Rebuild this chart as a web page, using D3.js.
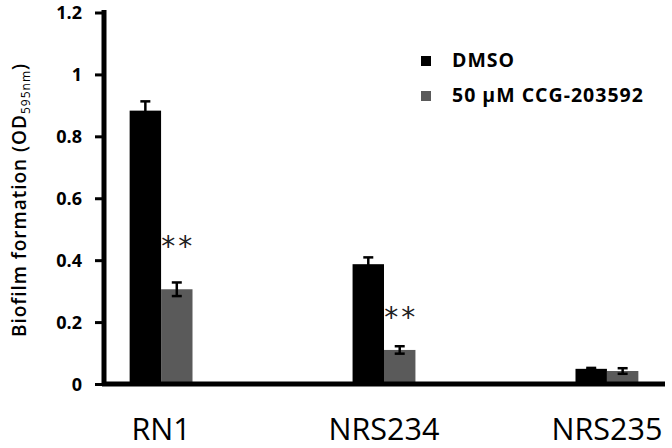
<!DOCTYPE html>
<html><head><meta charset="utf-8">
<script src="https://cdn.jsdelivr.net/npm/d3@7"></script>
<style>body{margin:0;background:#fff}svg{display:block}</style>
</head><body>
<svg id="c" width="672" height="448"></svg>
<script>
const categories = ["RN1", "NRS234", "NRS235"];
const seriesNames = ["DMSO", "50 \u03BCM CCG-203592"];
const dmso = [0.883, 0.387, 0.049];
const dmsoErr = [0.03, 0.022, 0.003];
const ccg = [0.306, 0.11, 0.042];
const ccgErr = [0.022, 0.012, 0.009];
const significance = ["**", "**", ""];
const sigLevel = [0.463, 0.232, 0];
const yTicks = [0, 0.2, 0.4, 0.6, 0.8, 1, 1.2];
const colors = ["#000000", "#5a5a5a"];

const svg = d3.select("#c");
const font = "'Open Sans', 'Noto Sans', sans-serif";
const x0 = d3.scaleBand().domain(categories).range([104, 664]).paddingInner(0.718).paddingOuter(0.115);
const x1 = d3.scaleBand().domain(seriesNames).range([0, x0.bandwidth()]);
const y = d3.scaleLinear().domain([0, 1.2]).range([384, 12.5]);

const data = categories.map((c, i) => ({c, vals: [
  {s: seriesNames[0], v: dmso[i], e: dmsoErr[i]},
  {s: seriesNames[1], v: ccg[i], e: ccgErr[i]}], sig: significance[i], sl: sigLevel[i]}));

const g = svg.selectAll("g.grp").data(data).join("g").attr("class", "grp")
  .attr("transform", d => `translate(${x0(d.c)},0)`);
g.selectAll("rect").data(d => d.vals).join("rect")
  .attr("x", d => x1(d.s)).attr("width", x1.bandwidth())
  .attr("y", d => y(d.v)).attr("height", d => y(0) - y(d.v))
  .attr("fill", (d, i) => colors[i]);
const eb = g.selectAll("g.eb").data(d => d.vals).join("g").attr("class", "eb");
eb.append("line").attr("x1", d => x1(d.s) + x1.bandwidth()/2).attr("x2", d => x1(d.s) + x1.bandwidth()/2)
  .attr("y1", d => y(d.v - d.e)).attr("y2", d => y(d.v + d.e)).attr("stroke", "#000").attr("stroke-width", 2.5);
eb.selectAll("line.cap").data(d => [d.v - d.e, d.v + d.e].map(v => ({s: d.s, v}))).join("line").attr("class", "cap")
  .attr("x1", d => x1(d.s) + x1.bandwidth()/2 - 5).attr("x2", d => x1(d.s) + x1.bandwidth()/2 + 5)
  .attr("y1", d => y(d.v)).attr("y2", d => y(d.v)).attr("stroke", "#000").attr("stroke-width", 2.5);
g.filter(d => d.sig).append("text").text(d => d.sig)
  .attr("x", d => x1(seriesNames[1]) + x1.bandwidth()/2 + 1.5)
  .attr("y", d => y(d.sl) + 15)
  .attr("text-anchor", "middle").attr("font-family", "'DejaVu Sans', sans-serif")
  .attr("letter-spacing", 3)
  .attr("font-size", 28).attr("fill", "#222");

// y axis
const yAxis = svg.append("g").attr("transform", "translate(104,0)")
  .call(d3.axisLeft(y).tickValues(yTicks).tickFormat(d3.format("~g")).tickSize(9).tickSizeOuter(0));
yAxis.select(".domain").attr("d", "M0,10V386").attr("stroke", "#000").attr("stroke-width", 5);
yAxis.selectAll(".tick line").attr("stroke", "#000").attr("stroke-width", 3);
yAxis.selectAll(".tick text").attr("x", -22).attr("dy", "0.34em").attr("font-family", font).attr("font-weight", "bold")
  .attr("font-size", 18).attr("fill", "#000");
// x axis
const xAxis = svg.append("g").attr("transform", "translate(0,384)")
  .call(d3.axisBottom(x0).tickSize(0).tickSizeOuter(0));
xAxis.select(".domain").attr("d", "M102,0H665").attr("stroke", "#000").attr("stroke-width", 5);
xAxis.selectAll(".tick text").attr("dy", 0).attr("y", 56).attr("font-family", font)
  .attr("font-size", 30.5).attr("fill", "#000");

// y title
const yt = svg.append("text").attr("transform", "translate(26,200) rotate(-90)")
  .attr("text-anchor", "middle").attr("font-family", font).attr("font-weight", 600)
  .attr("font-size", 19).attr("letter-spacing", 1).attr("fill", "#000");
yt.append("tspan").text("Biofilm formation (OD");
yt.append("tspan").text("595nm").attr("font-size", 12).attr("font-weight", 400).attr("dy", 4);
yt.append("tspan").text(")").attr("dy", -4);

// legend
const lg = svg.selectAll("g.lg").data(seriesNames).join("g").attr("class", "lg")
  .attr("transform", (d, i) => `translate(421,${56 + i * 35})`);
lg.append("rect").attr("width", 10).attr("height", 10).attr("fill", (d, i) => colors[i]);
lg.append("text").text(d => d).attr("x", 31).attr("y", 11).attr("font-family", font)
  .attr("font-weight", "bold").attr("font-size", 19.5).attr("letter-spacing", 1).attr("fill", "#000");
</script>
</body></html>
